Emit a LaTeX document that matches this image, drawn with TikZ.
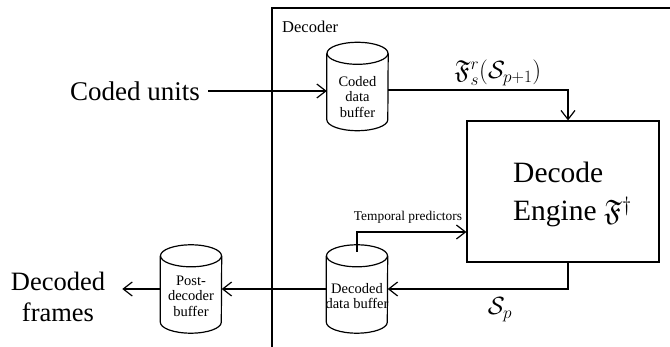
\documentclass[tikz,border=0pt]{standalone}
\usepackage{amsmath,amssymb}
\usepackage{fontspec}
\setmainfont{Liberation Serif}
\usetikzlibrary{arrows.meta,calc}

% Vertical storage cylinder drawn around an empty node of fixed size
\newcommand{\cylshape}[1]{%
  \draw[line] ($(#1.north west)+(0,-11)$) -- ($(#1.south west)+(0,11)$)
    arc[start angle=180,end angle=360,x radius=30.5,y radius=11]
    -- ($(#1.north east)+(0,-11)$);
  \draw[line] ($(#1.north)+(0,-11)$) ellipse[x radius=30.5,y radius=11];
}

\begin{document}
\begin{tikzpicture}[x=1pt,y=1pt,
  line/.style={line width=1.2pt},
  arr/.style={line, -{Straight Barb[length=9pt,width=14pt]}},
  cylbox/.style={minimum width=61pt,minimum height=88pt,inner sep=0pt},
  cyltext/.style={font=\fontsize{14.5}{15.5}\selectfont, align=center, inner sep=0pt},
  mathlbl/.style={font=\fontsize{24}{28}\selectfont, inner sep=0pt},
]
\useasboundingbox (0,0) rectangle (670,-347);
\fill[white] (0,0) rectangle (670,-347);

% decoder boundary
\draw[line] (272,-347) -- (272,-8) -- (670,-8);
\node[anchor=west, inner sep=0pt, font=\fontsize{16.5}{18}\selectfont] (declabel) at (282,-27) {Decoder};

% buffers
\node[cylbox] (cdb) at (357.5,-86.5) {};
\cylshape{cdb}
\node[cyltext] (cdbt) at (357.5,-97) {Coded\\data\\buffer};

\node[cylbox] (ddb) at (357,-289) {};
\cylshape{ddb}
\node[cyltext] (ddbt) at (357,-296) {Decoded\\data buffer};

\node[cylbox] (pdb) at (191,-289) {};
\cylshape{pdb}
\node[cyltext] (pdbt) at (191,-296) {Post-\\decoder\\buffer};

% decode engine
\node[draw, line, minimum width=192pt, minimum height=141pt, inner sep=0pt] (eng) at (563,-191.5) {};
\node[align=left, anchor=west, inner sep=0pt, font=\fontsize{29.5}{38}\selectfont] (engt) at (513,-194) {Decode\\Engine $\mathfrak{F}^{\dagger}$};

% external texts
\node[font=\fontsize{27}{31}\selectfont, inner xsep=8pt, inner ysep=0pt] (cu) at (135,-91) {Coded units};
\node[font=\fontsize{26.5}{31}\selectfont, align=center, inner xsep=17pt, inner ysep=0pt] (df) at (58,-297) {Decoded\\frames};

% labels
\node[mathlbl, font=\fontsize{26}{30}\selectfont, anchor=base] (fl) at (498,-79) {$\mathfrak{F}_s^r(\mathcal{S}_{p+1})$};
\node[mathlbl] (sp) at (500,-310) {$\mathcal{S}_p$};
\node[inner sep=0pt, font=\fontsize{13.4}{15}\selectfont] (tpl) at (408,-217) {Temporal predictors};

% connectors
\draw[arr] (cu.east) -- (cu.east -| cdb.west);
\draw[arr] ($(cdb.east)+(0,-3.5)$) -| ($(eng.north)+(5,0)$);
\draw[arr] ($(eng.south)+(5,0)$) |- (ddb.east);
\draw[arr] (ddb.west) -- (pdb.east);
\draw[arr] (pdb.west) -- (pdb.west -| df.east);
\coordinate (tpsrc) at (357,-252);
\draw[arr] (tpsrc) |- ($(eng.west)+(0,-40.5)$);
\end{tikzpicture}
\end{document}
